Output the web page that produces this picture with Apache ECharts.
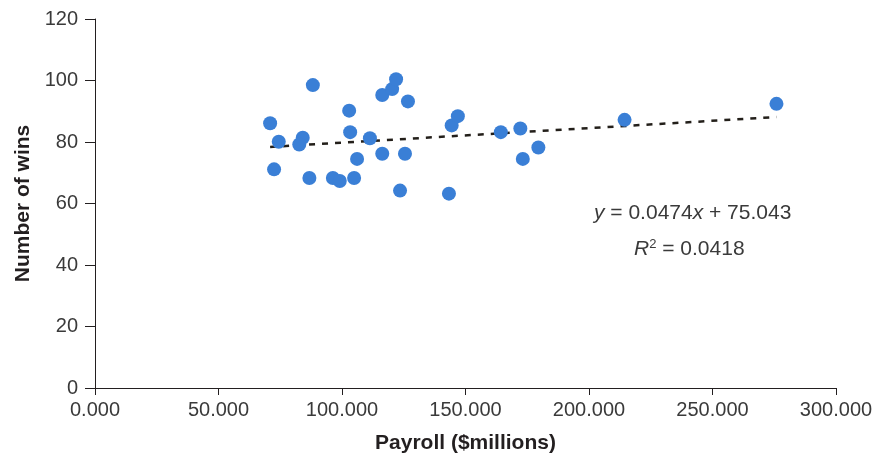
<!DOCTYPE html>
<html>
<head>
<meta charset="utf-8">
<script src="https://cdn.jsdelivr.net/npm/echarts@6/dist/echarts.min.js"></script>
<style>html,body{margin:0;padding:0;background:#fff}#c{width:881px;height:456px}</style>
</head>
<body>
<div id="c"></div>
<script>
// Payroll ($ millions)
const payroll = [70.9, 74.4, 72.5, 84.1, 82.7, 86.8, 88.2, 96.3, 99.1, 102.9, 103.3, 104.9, 106.1, 111.3, 116.3, 116.3, 120.3, 121.9, 123.5, 125.5, 126.7, 143.3, 144.4, 146.9, 164.3, 172.2, 173.2, 179.5, 214.4, 275.9];
// Number of wins
const wins = [86.1, 80.1, 71.1, 81.4, 79.2, 68.3, 98.5, 68.3, 67.3, 90.2, 83.2, 68.3, 74.5, 81.2, 95.3, 76.2, 97.2, 100.4, 64.2, 76.2, 93.2, 63.2, 85.4, 88.4, 83.2, 84.4, 74.5, 78.2, 87.2, 92.4];
// Trend line coefficients (as printed on chart)
const slope = 0.0474;
const intercept = 75.043;
const rSquared = 0.0418;
const xTicks = [0, 50, 100, 150, 200, 250, 300];
const yTicks = [0, 20, 40, 60, 80, 100, 120];

const points = payroll.map((p, i) => [p, wins[i]]);
const xMin = Math.min(...payroll), xMax = Math.max(...payroll);
const trend = [[xMin, slope * xMin + intercept], [xMax, slope * xMax + intercept]];

const axisColor = '#231f20';
const labelColor = '#3a3a3a';
const F = 'Liberation Sans';
const chart = echarts.init(document.getElementById('c'), null, {renderer: 'canvas'});
chart.setOption({
  animation: false,
  grid: {left: 95, right: 45, top: 19, bottom: 68, containLabel: false, outerBoundsMode: 'none'},
  xAxis: {
    type: 'value', min: xTicks[0], max: xTicks[xTicks.length - 1], interval: xTicks[1] - xTicks[0],
    name: 'Payroll ($millions)', nameLocation: 'middle', nameGap: 45,
    nameTextStyle: {fontFamily: F, fontWeight: 'bold', fontSize: 21, color: axisColor},
    axisLine: {show: true, onZero: false, lineStyle: {color: axisColor, width: 1}},
    axisTick: {show: true, length: 7, lineStyle: {color: axisColor}},
    axisLabel: {fontFamily: F, fontSize: 20, color: labelColor, margin: 12,
      formatter: v => v.toFixed(3)},
    splitLine: {show: false}
  },
  yAxis: {
    type: 'value', min: yTicks[0], max: yTicks[yTicks.length - 1], interval: yTicks[1] - yTicks[0],
    name: 'Number of wins', nameLocation: 'middle', nameGap: 61, nameRotate: 90,
    nameTextStyle: {fontFamily: F, fontWeight: 'bold', fontSize: 21, color: axisColor},
    axisLine: {show: true, lineStyle: {color: axisColor, width: 1}},
    axisTick: {show: true, length: 10, lineStyle: {color: axisColor}},
    axisLabel: {fontFamily: F, fontSize: 20, color: labelColor, margin: 17},
    splitLine: {show: false}
  },
  series: [
    {
      type: 'line', data: trend, symbol: 'none', z: 1,
      lineStyle: {color: '#231f1a', width: 2.5, type: [6, 7]}
    },
    {
      type: 'scatter', data: points, symbolSize: 14, z: 2,
      itemStyle: {color: '#3a7fd6', opacity: 1}
    }
  ],
  graphic: [
    {type: 'text', left: 594, top: 203, style: {
      text: '{i|y} = ' + slope + '{i|x} + ' + intercept.toFixed(3),
      font: '21px "Liberation Sans"', fill: labelColor,
      rich: {i: {fontStyle: 'italic', fontSize: 21, fontFamily: F, fill: labelColor}}
    }},
    {type: 'text', left: 634, top: 238, style: {
      text: '{i|R}{s|2} = ' + rSquared,
      font: '21px "Liberation Sans"', fill: labelColor,
      rich: {i: {fontStyle: 'italic', fontSize: 21, fontFamily: F, fill: labelColor},
             s: {fontSize: 13, fontFamily: F, fill: labelColor, verticalAlign: 'top', padding: [0,0,9,0]}}
    }}
  ]
});
</script>
</body>
</html>
